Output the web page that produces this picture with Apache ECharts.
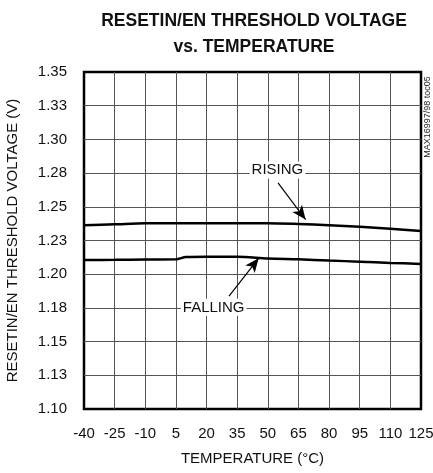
<!DOCTYPE html>
<html>
<head>
<meta charset="utf-8">
<script src="https://cdn.jsdelivr.net/npm/echarts@6/dist/echarts.min.js"></script>
<style>
html,body{margin:0;padding:0;background:#fff;}
#chart{width:433px;height:473px;}
</style>
</head>
<body>
<div id="chart"></div>
<script>
var FONT = '"Liberation Sans", Arial, sans-serif';

// temperatures (°C) and threshold voltages (V)
var risingTemps = [-40, -25, -10, 5, 20, 35, 50, 65, 80, 95, 110, 125];
var risingVolts = [1.2363, 1.2370, 1.2378, 1.2378, 1.2378, 1.2378, 1.2378, 1.2372, 1.2363, 1.2352, 1.2337, 1.2321];

var fallingTemps = [-40, -25, -10, 5, 10, 20, 35, 50, 65, 80, 95, 110, 125];
var fallingVolts = [1.2105, 1.2107, 1.2109, 1.2110, 1.2128, 1.2130, 1.2130, 1.2116, 1.2110, 1.2101, 1.2093, 1.2084, 1.2076];

var xLabels = ['-40', '-25', '-10', '5', '20', '35', '50', '65', '80', '95', '110', '125'];
var yLabels = ['1.10', '1.13', '1.15', '1.18', '1.20', '1.23', '1.25', '1.28', '1.30', '1.33', '1.35'];

function pairs(xs, ys){
    var out = [];
    for(var i=0;i<xs.length;i++){
        out.push([xs[i], ys[i]]);
    }
    return out;
}

var chart = echarts.init(document.getElementById('chart'));
chart.setOption({
    animation: false,
    title: {
        text: 'RESETIN/EN THRESHOLD VOLTAGE\nvs. TEMPERATURE',
        left: 249,
        top: 3,
        textAlign: 'center',
        textStyle: {
            fontFamily: FONT,
            fontSize: 17.5,
            fontWeight: 'bold',
            color: '#111',
            lineHeight: 26
        }
    },
    grid: {
        left: 84,
        right: 12,
        top: 72,
        bottom: 64,
        outerBoundsMode: 'none',
        containLabel: false,
        show: true,
        borderColor: '#000',
        borderWidth: 2.5
    },
    xAxis: {
        type: 'value',
        min: -40,
        max: 125,
        interval: 15,
        name: 'TEMPERATURE (°C)',
        nameLocation: 'middle',
        nameGap: 42,
        nameTextStyle: {fontFamily: FONT, fontSize: 15, color: '#111'},
        axisLine: {show: false},
        axisTick: {show: false},
        axisLabel: {
            fontFamily: FONT,
            fontSize: 15,
            color: '#111',
            margin: 17,
            formatter: function(v){
                return xLabels[Math.round((v + 40) / 15)];
            }
        },
        splitLine: {
            show: true,
            showMinLine: false,
            showMaxLine: false,
            lineStyle: {color: '#555', width: 1}
        }
    },
    yAxis: {
        type: 'value',
        min: 1.10,
        max: 1.35,
        interval: 0.025,
        name: 'RESETIN/EN THRESHOLD VOLTAGE (V)',
        nameLocation: 'middle',
        nameGap: 64,
        nameTextStyle: {fontFamily: FONT, fontSize: 15, color: '#111'},
        axisLine: {show: false},
        axisTick: {show: false},
        axisLabel: {
            fontFamily: FONT,
            fontSize: 15,
            color: '#111',
            margin: 17,
            formatter: function(v){
                return yLabels[Math.round((v - 1.10) / 0.025)];
            }
        },
        splitLine: {
            show: true,
            showMinLine: false,
            showMaxLine: false,
            lineStyle: {color: '#555', width: 1}
        }
    },
    graphic: [
        {
            type: 'text',
            x: 428,
            y: 117,
            rotation: Math.PI / 2,
            style: {
                text: 'MAX16997/98 toc05',
                fontFamily: FONT,
                fontSize: 9,
                fill: '#222',
                align: 'center',
                verticalAlign: 'middle'
            }
        }
    ],
    series: [
        {
            name: 'RISING',
            type: 'line',
            data: pairs(risingTemps, risingVolts),
            symbol: 'none',
            smooth: 0.3,
            lineStyle: {color: '#000', width: 2.5},
            markLine: {
                silent: true,
                symbol: ['none', 'arrow'],
                symbolSize: [9, 14],
                label: {show: false},
                lineStyle: {color: '#000', width: 1.2, type: 'solid'},
                data: [[{coord: [55, 1.2677]}, {coord: [68.5, 1.2405]}]]
            },
            markPoint: {
                silent: true,
                symbol: 'rect',
                symbolSize: 0,
                label: {
                    show: true,
                    position: 'inside',
                    formatter: 'RISING',
                    fontFamily: FONT,
                    fontSize: 15,
                    color: '#111',
                    backgroundColor: '#fff',
                    padding: [1, 2]
                },
                data: [{coord: [54.7, 1.2773]}]
            }
        },
        {
            name: 'FALLING',
            type: 'line',
            data: pairs(fallingTemps, fallingVolts),
            symbol: 'none',
            smooth: 0.3,
            lineStyle: {color: '#000', width: 2.5},
            markLine: {
                silent: true,
                symbol: ['none', 'arrow'],
                symbolSize: [9, 14],
                label: {show: false},
                lineStyle: {color: '#000', width: 1.2, type: 'solid'},
                data: [[{coord: [31, 1.1838]}, {coord: [45.5, 1.2118]}]]
            },
            markPoint: {
                silent: true,
                symbol: 'rect',
                symbolSize: 0,
                label: {
                    show: true,
                    position: 'inside',
                    formatter: 'FALLING',
                    fontFamily: FONT,
                    fontSize: 15,
                    color: '#111',
                    backgroundColor: '#fff',
                    padding: [1, 2]
                },
                data: [{coord: [23.5, 1.1754]}]
            }
        }
    ]
});
</script>
</body>
</html>
